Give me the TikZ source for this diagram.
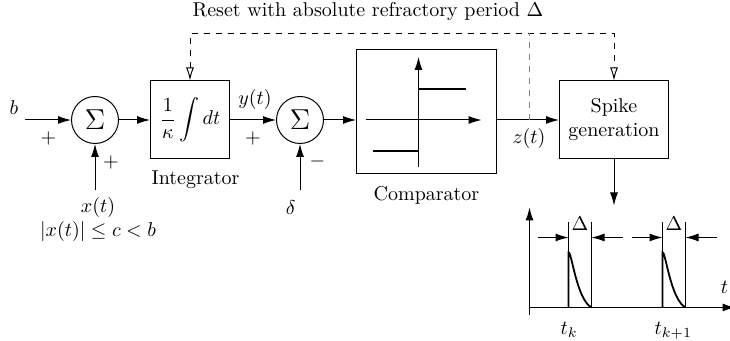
\documentclass[tikz,border=0pt]{standalone}
\usepackage{amsmath,amssymb}
\usepackage{tikz}
\usetikzlibrary{arrows.meta,positioning,calc}

\begin{document}
\begin{tikzpicture}[
    line width=0.5pt,
    block/.style={rectangle, draw, align=center, minimum width=39.5pt, minimum height=39pt, inner sep=0pt},
    summer/.style={circle, draw, minimum size=23.5pt, inner sep=0pt, font=\Large},
    arrow/.style={-{Latex[length=6.5pt,width=4pt]}},
    reset/.style={dashed, {Latex[open,length=6.5pt,width=4pt]}-{Latex[open,length=6.5pt,width=4pt]}},
    signal/.style={line width=0.9pt}
  ]
    \useasboundingbox (0,60pt) rectangle (365pt,-110.5pt);
    \node[summer] (s1) at (47.5pt,0) {$\Sigma$};
    \node[block, right=15.5pt of s1] (integ) {$\displaystyle\frac{1}{\kappa}\int dt$};
    \node[summer, right=23pt of integ] (s2) {$\Sigma$};
    \node[block, minimum width=70pt, minimum height=62pt, right=16pt of s2, yshift=4pt] (comp) {};
    \node[block, minimum width=54.5pt, right=31pt of comp, yshift=-4pt] (spike) {Spike\\generation};
    \coordinate[left=23pt of s1] (bIn);
    \coordinate[below=23.25pt of s1] (xIn);
    \coordinate[below=23.25pt of s2] (dIn);
    \coordinate (zTap) at ($(comp.east |- s2)+(16pt,0)$);
    \coordinate (rTop) at ($(integ.north)+(0,23.5pt)$);
    \coordinate (spikeOut) at ($(spike.south)+(0,-23pt)$);
    \node (bLbl) at ($(bIn)+(-5.5pt,6.3pt)$) {$b$};
    \node (p1) at ($(s1)+(-23.3pt,-9.5pt)$) {$+$};
    \node (p2) at ($(s1)+(7.9pt,-21.3pt)$) {$+$};
    \node[below=0pt of xIn, xshift=1.5pt, align=center] (xLbl) {$x(t)$\\$|x(t)|\le c<b$};
    \node[below=2.2pt of integ, xshift=2.8pt] (integLbl) {Integrator};
    \node (yLbl) at ($(s2)+(-22.5pt,10pt)$) {$y(t)$};
    \node (p3) at ($(s2)+(-23.5pt,-9.5pt)$) {$+$};
    \node (m1) at ($(s2)+(8.75pt,-20.8pt)$) {$-$};
    \node[below=1.4pt of dIn, xshift=-4.6pt] (dLbl) {$\delta$};
    \node[below=2.2pt of comp] (compLbl) {Comparator};
    \node (zLbl) at ($(zTap)+(0,-9.2pt)$) {$z(t)$};
    \node[anchor=base] (rLbl) at ($(rTop)+(89pt,8.4pt)$) {Reset with absolute refractory period $\Delta$};
    \draw[arrow] (bIn) -- (s1);
    \draw[arrow] (xIn) -- (s1);
    \draw[arrow] (s1) -- (integ);
    \draw[arrow] (integ) -- (s2);
    \draw[arrow] (dIn) -- (s2);
    \draw[arrow] (s2) -- (s2 -| comp.west);
    \draw[arrow] (comp.east |- spike) -- (spike);
    \draw[arrow] (spike) -- (spikeOut);
    \draw[reset] (integ.north) -- (rTop) -- (rTop -| spike.north) -- (spike.north);
    \draw[dashed, gray] (zTap) -- (zTap |- rTop);
    \begin{scope}[shift={(comp.center)}]
      \draw[arrow] (-30.5pt,-4pt) -- (27.5pt,-4pt);
      \draw[arrow] (-4pt,-27.5pt) -- (-4pt,27.5pt);
      \draw[signal] (-27pt,-19.5pt) -- (-4pt,-19.5pt) -- (-4pt,11.5pt) -- (19.5pt,11.5pt);
    \end{scope}
    \coordinate (O) at ($(spike.south)+(-42.25pt,-74pt)$);
    \begin{scope}[shift={(O)}]
      \draw[arrow] (0,-4pt) -- (0,50pt);
      \draw[arrow] (0,0) -- (103pt,0);
      \node[inner sep=0.5pt] (tAx) at (97.5pt,10pt) {$t$};
      \draw[signal] (8pt,0) -- (93pt,0);
      \foreach \tk/\lbl [count=\i] in {19.5pt/t_k, 66.5pt/t_{k+1}} {
        \begin{scope}[xshift=\tk]
          \draw (0,0) -- (0,42.5pt);
          \draw (11.5pt,0) -- (11.5pt,42.5pt);
          \draw[arrow] (-15.5pt,35pt) -- (0,35pt);
          \draw[arrow] (27pt,35pt) -- (11.5pt,35pt);
          \node (delta\i) at (5.75pt,42pt) {$\Delta$};
          \draw[signal] (0,0) -- (0,27.5pt) .. controls (1.5pt,28.5pt) and (4pt,4pt) .. (11.5pt,0);
          \node[anchor=base west] (tk\i) at (-7.5pt,-13.5pt) {$\lbl$};
        \end{scope}
      }
    \end{scope}
  \end{tikzpicture}
\end{document}
